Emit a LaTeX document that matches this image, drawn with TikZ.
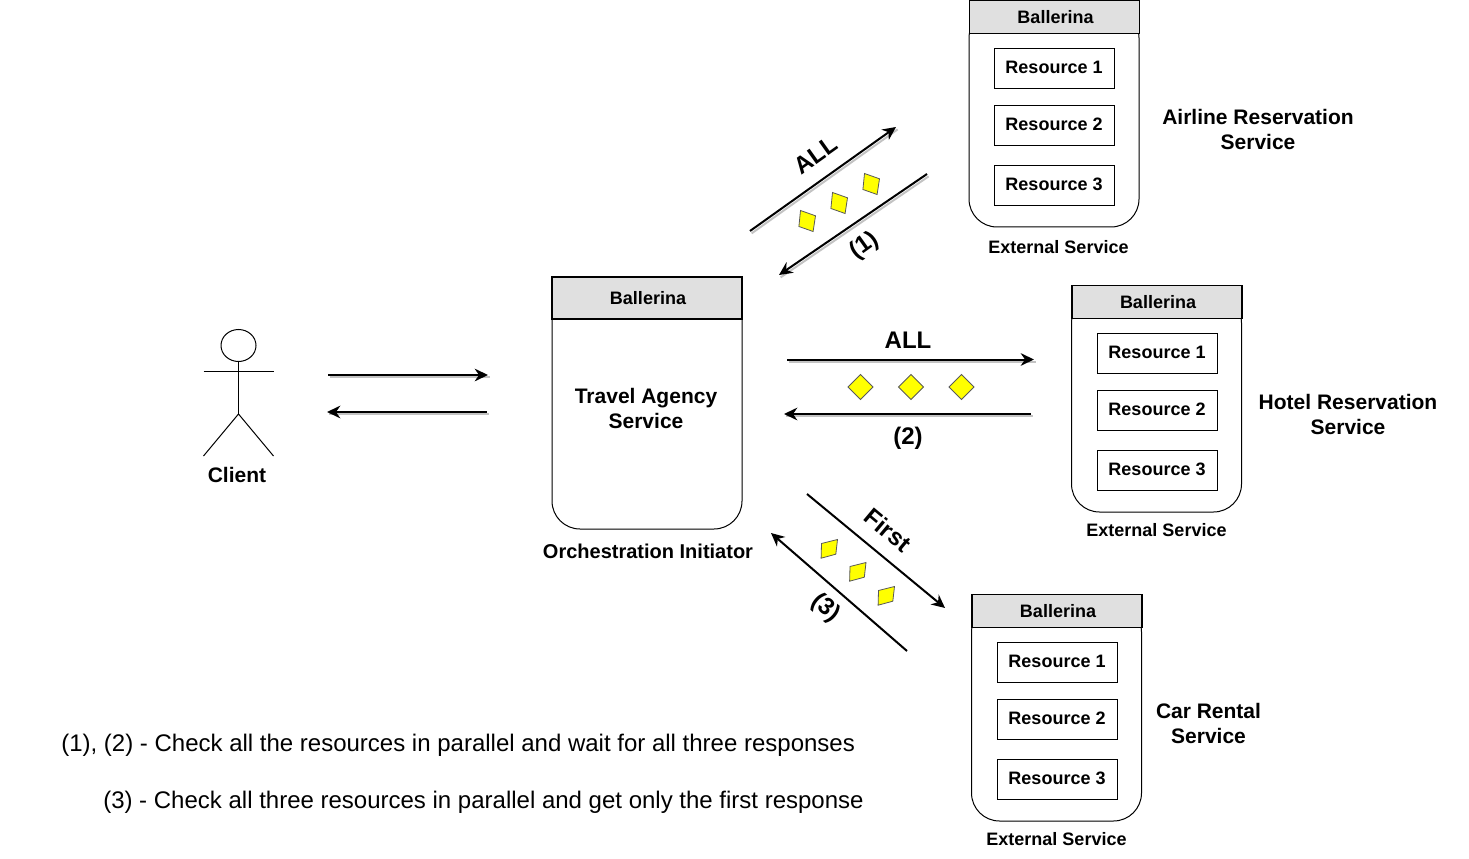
\documentclass[tikz,border=0pt]{standalone}
\usepackage{fontspec}
\setmainfont{Liberation Sans}
\usepackage{tikz}
\usetikzlibrary{arrows.meta, positioning, shapes.geometric}
\definecolor{head_grey}{RGB}{224, 224, 224}
\definecolor{token_yellow}{RGB}{255, 255, 0}
\definecolor{shade_grey}{RGB}{195, 195, 195}

\begin{document}
\begin{tikzpicture}[
    x=0.75pt, y=-0.75pt,
    every node/.style={font=\fontsize{13.5}{16}\selectfont\bfseries, inner sep=0pt},
    head/.style={draw=black, fill=head_grey, line width=1.3pt, minimum width=127.5pt, minimum height=24.75pt, execute at begin node=\hspace*{1.5pt}},
    mainhead/.style={draw=black, fill=head_grey, line width=1.3pt, minimum width=142.5pt, minimum height=31.5pt, execute at begin node=\hspace*{1.5pt}},
    body/.style={draw=black, fill=white, rounded corners=21pt, line width=0.75pt, minimum width=127.5pt},
    res/.style={draw=black, fill=white, line width=0.75pt, minimum width=90pt, minimum height=30pt, text depth=1.5pt},
    big/.style={font=\fontsize{15.75}{18.75}\selectfont\bfseries, align=center},
    huge/.style={font=\fontsize{18}{21}\selectfont\bfseries},
    note/.style={font=\fontsize{18}{21}\selectfont, anchor=west},
    flow/.style={line width=1.5pt, -{Stealth[length=10pt, width=9.5pt]}, preaction={draw=shade_grey, -, line width=1.5pt, transform canvas={xshift=1.2pt, yshift=-1.8pt}}},
    plainflow/.style={line width=1.5pt, -{Stealth[length=10pt, width=9.5pt]}},
    token/.style={draw=black!65, fill=token_yellow, line width=0.6pt},
    stick/.style={draw=black, line width=0.75pt},
  ]
    \useasboundingbox (0,0) rectangle (1469,859);

    % client
    \node[draw=black, line width=0.75pt, ellipse, minimum width=26.25pt, minimum height=24pt] (headc) at (238.5,345.5) {};
    \coordinate (hip) at (238.5,414);
    \coordinate (armL) at (203.5,371.5);
    \coordinate (armR) at (273.5,371.5);
    \coordinate (legL) at (203.5,456);
    \coordinate (legR) at (273.5,456);
    \draw[stick] (headc) -- (hip);
    \draw[stick] (armL) -- (armR);
    \draw[stick] (legL) -- (hip) -- (legR);
    \node[big] (client) at (237,475) {Client};

    % initiator
    \node[body, minimum width=142.5pt, minimum height=183pt] (mainbody) at (647,407) {};
    \node[mainhead] (mainhd) at (647,298) {Ballerina};
    \node[big] (travel) at (646,408) {Travel Agency\\Service};
    \node[big, font=\fontsize{15}{18}\selectfont\bfseries] (orch) at (648,551) {Orchestration Initiator};

    % airline
    \node[body, minimum height=162.75pt] (airbody) at (1054,118.5) {};
    \node[head] (airhd) at (1054.5,17) {Ballerina};
    \node[res] (air1) at (1054,68.2) {Resource 1};
    \node[res] (air2) at (1054,125.2) {Resource 2};
    \node[res] (air3) at (1054,185.2) {Resource 3};
    \node (airext) at (1058.5,247) {External Service};
    \node[big] (airname) at (1258,129) {Airline Reservation\\Service};

    % hotel
    \node[body, minimum height=162.75pt] (hotbody) at (1156.5,403.5) {};
    \node[head] (hothd) at (1157,302) {Ballerina};
    \node[res] (hot1) at (1157,353.2) {Resource 1};
    \node[res] (hot2) at (1157,410.2) {Resource 2};
    \node[res] (hot3) at (1157,470.2) {Resource 3};
    \node (hotext) at (1156.5,530) {External Service};
    \node[big] (hotname) at (1348,414) {Hotel Reservation\\Service};

    % car rental
    \node[body, minimum height=162.75pt] (carbody) at (1056.5,712.5) {};
    \node[head] (carhd) at (1057,611) {Ballerina};
    \node[res] (car1) at (1057,662.2) {Resource 1};
    \node[res] (car2) at (1057,719.2) {Resource 2};
    \node[res] (car3) at (1057,779.2) {Resource 3};
    \node (carext) at (1056.5,839) {External Service};
    \node[big] (carname) at (1208.5,723) {Car Rental\\Service};

    % arrow ends
    \coordinate (cliA) at (328,375);
    \coordinate (cliB) at (488,375);
    \coordinate (cliC) at (487,412);
    \coordinate (cliD) at (327,412);
    \coordinate (airA) at (750,231);
    \coordinate (airB) at (896,127);
    \coordinate (airC) at (927,174);
    \coordinate (airD) at (779,275);
    \coordinate (hotA) at (787,359.5);
    \coordinate (hotB) at (1034,359.5);
    \coordinate (hotC) at (1031,414);
    \coordinate (hotD) at (784,414);
    \coordinate (carA) at (807,494);
    \coordinate (carB) at (945,608);
    \coordinate (carC) at (907,651);
    \coordinate (carD) at (771,533);

    \draw[flow] (cliA) -- (cliB);
    \draw[flow] (cliC) -- (cliD);
    \draw[flow] (airA) -- (airB);
    \draw[flow] (airC) -- (airD);
    \draw[flow] (hotA) -- (hotB);
    \draw[flow] (hotC) -- (hotD);
    \draw[plainflow] (carA) -- (carB);
    \draw[plainflow] (carC) -- (carD);

    % arrow labels
    \node[huge, rotate=35.5] (allair) at (816,155) {ALL};
    \node[huge, rotate=35.5] (oneair) at (864.5,246) {(1)};
    \node[huge] (allhot) at (908,340) {ALL};
    \node[huge] (twohot) at (908,438) {(2)};
    \node[huge, rotate=-40] (firstcar) at (888,530) {First};
    \node[huge, rotate=-40] (threecar) at (825.5,608) {(3)};

    % tokens
    \foreach \px/\py in {807/221, 839/203, 871/184}
      \draw[token] (\px,\py) ++(-6.5,-10.5) -- ++(15,5.3) -- ++(-2.4,15.7) -- ++(-14.2,-5) -- cycle;
    \foreach \px/\py in {829/549, 857.5/572, 886/596}
      \draw[token] (\px,\py) ++(-7.5,-5.5) -- ++(16,-4) -- ++(-1.7,14.7) -- ++(-14.7,4) -- cycle;
    \foreach \px in {860.5, 911, 961.5}
      \node[diamond, token, minimum width=19pt, minimum height=19pt] at (\px,387) {};

    % legend
    \node[note] (noteone) at (61,745) {(1), (2) - Check all the resources in parallel and wait for all three responses};
    \node[note] (notetwo) at (103,802) {(3) - Check all three resources in parallel and get only the first response};
\end{tikzpicture}
\end{document}
